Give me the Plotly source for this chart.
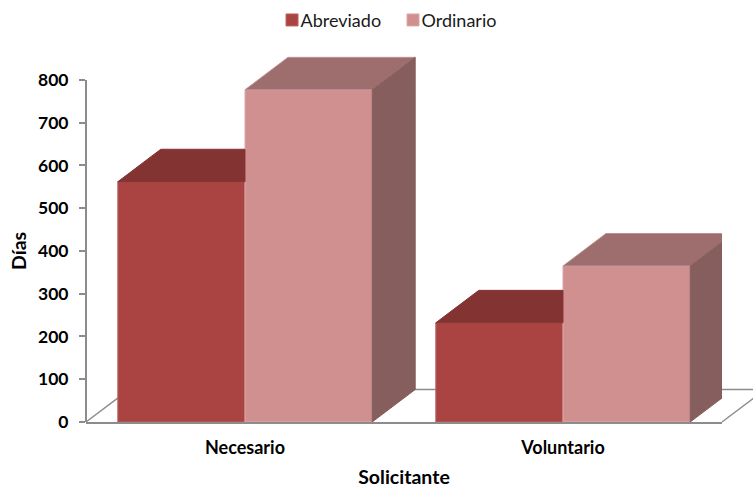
import plotly.graph_objects as go

categories = ["Necesario", "Voluntario"]
abreviado = [562, 232]
ordinario = [777, 365]
y_ticks = [0, 100, 200, 300, 400, 500, 600, 700, 800]

WIDTH, HEIGHT = 753, 488
L, R, T, B = 86, 31, 50, 65.5
plot_w = WIDTH - L - R
plot_h = HEIGHT - T - B
PX_PER_UNIT = 342.5 / 800
Y_TOP = plot_h / PX_PER_UNIT   # room above 800 for the depth of the columns
BAR = 0.4
DX = 43 / plot_w * 2           # depth in category units
DY = 32.5 / PX_PER_UNIT        # depth in value units
PDX = 43 / plot_w              # same depth in paper units
PDY = 32.5 / plot_h
AXIS = "#8c8c8c"
FONT = "Lato"

positions = list(range(len(categories)))
fig = go.Figure()


def poly(xs, ys, color, edge):
    fig.add_trace(go.Scatter(
        x=xs + xs[:1], y=ys + ys[:1], mode="lines", fill="toself",
        fillcolor=color, line=dict(color=edge, width=1),
        cliponaxis=False, showlegend=False, hoverinfo="skip"))


fig.add_trace(go.Bar(name="Abreviado", x=positions, y=abreviado,
                     marker=dict(color="#A94442", line=dict(color="#BC6462", width=1))))
fig.add_trace(go.Bar(name="Ordinario", x=positions, y=ordinario,
                     marker=dict(color="#D09090", line=dict(color="#DBA8A8", width=1))))

for p, a, o in zip(positions, abreviado, ordinario):
    # Abreviado top: only the part not hidden by the Ordinario column
    poly([p - BAR, p - BAR + DX, p, p], [a, a + DY, a + DY, a], "#833331", "#833331")
    # Ordinario top and side
    poly([p, p + DX, p + BAR + DX, p + BAR], [o, o + DY, o + DY, o], "#9E6E6E", "#BC9292")
    poly([p + BAR, p + BAR + DX, p + BAR + DX, p + BAR], [0, DY, o + DY, o], "#855E5D", "#855E5D")

floor = [(0, 0, PDX, PDY), (PDX, PDY, 1 + PDX, PDY), (1, 0, 1 + PDX, PDY)]
shapes = [dict(type="line", xref="paper", yref="paper", x0=a, y0=b, x1=c, y1=d,
               layer="below", line=dict(color=AXIS, width=1.5)) for a, b, c, d in floor]
# value axis line stops at the last tick, not at the top of the drawing area
shapes.append(dict(type="line", xref="paper", yref="y", x0=0, x1=0, y0=0, y1=y_ticks[-1],
                   layer="above", line=dict(color=AXIS, width=2)))

fig.update_layout(
    width=WIDTH, height=HEIGHT, autosize=False,
    margin=dict(l=L, r=R, t=T, b=B, autoexpand=False),
    paper_bgcolor="white", plot_bgcolor="rgba(0,0,0,0)",
    barmode="group", bargap=0.2, bargroupgap=0,
    font=dict(family=FONT, color="black"),
    shapes=shapes,
    annotations=[dict(text="Días", textangle=-90, xref="paper", yref="y",
                      x=(19 - L) / plot_w, y=y_ticks[-1] / 2, xanchor="center", yanchor="middle",
                      showarrow=False, font=dict(size=19.5, family=FONT, weight="bold"))],
    legend=dict(orientation="h", x=0.2925, xanchor="left", xref="paper",
                y=1.08, yanchor="middle", font=dict(size=18, color="#1a1a1a"),
                traceorder="normal", itemwidth=30,
                entrywidth=76, entrywidthmode="pixels"),
    xaxis=dict(range=[-0.5, 1.5], tickmode="array", tickvals=positions, ticktext=categories,
               showgrid=False, zeroline=False, showline=True, linecolor=AXIS, linewidth=2,
               ticks="", tickfont=dict(size=18, family=FONT, weight="bold"),
               ticklabelstandoff=8, automargin=False,
               title=dict(text="Solicitante", font=dict(size=19.5, family=FONT, weight="bold"), standoff=19)),
    yaxis=dict(range=[0, Y_TOP], tickmode="array", tickvals=y_ticks,
               showgrid=False, zeroline=False, showline=False,
               ticks="outside", ticklen=6, tickcolor=AXIS, tickwidth=1.5,
               tickfont=dict(size=17.5, family=FONT, weight="bold"),
               ticklabelstandoff=7, automargin=False),
)

post = """
document.body.style.margin='0';
document.body.style.overflow='hidden';
document.querySelectorAll('.legendtext').forEach(function(t){
  t.setAttribute('x', parseFloat(t.getAttribute('x')) - 11.5);
});
"""
fig.write_html("out.html", config={"displayModeBar": False}, post_script=post)
